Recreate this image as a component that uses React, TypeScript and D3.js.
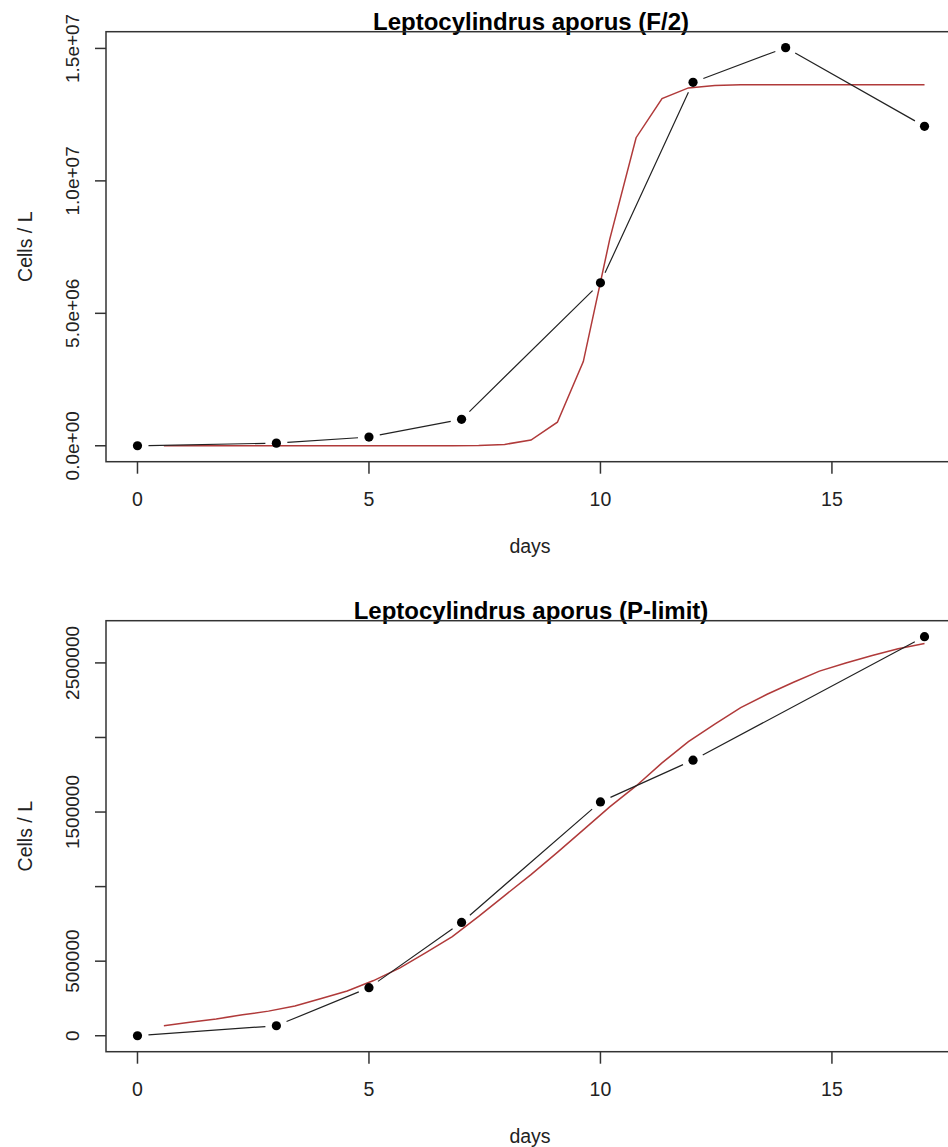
import React from "react";
import * as d3 from "d3";

// ---- data ----
const daysTop = [0, 3, 5, 7, 10, 12, 14, 17];
const cellsTop = [0, 0.1e6, 0.33e6, 1.0e6, 6.15e6, 13.72e6, 15.03e6, 12.06e6];

const daysBottom = [0, 3, 5, 7, 10, 12, 17];
const cellsBottom = [0, 0.067e6, 0.322e6, 0.76e6, 1.568e6, 1.848e6, 2.676e6];

const fitDays = [0.57, 1.13, 1.7, 2.27, 2.83, 3.4, 3.97, 4.53, 5.1, 5.67, 6.23, 6.8, 7.37, 7.93, 8.5, 9.07, 9.63, 10.2, 10.77, 11.33, 11.9, 12.47, 13.03, 13.6, 14.17, 14.73, 15.3, 15.87, 16.43, 17];
const fitTop = [0, 0, 0, 0, 0, 0, 0, 0, 0, 0.001e6, 0.001e6, 0.003e6, 0.011e6, 0.05e6, 0.216e6, 0.89e6, 3.18e6, 7.79e6, 11.63e6, 13.11e6, 13.51e6, 13.6e6, 13.63e6, 13.63e6, 13.63e6, 13.63e6, 13.63e6, 13.63e6, 13.63e6, 13.63e6];
const fitBottom = [0.067e6, 0.09e6, 0.113e6, 0.14e6, 0.165e6, 0.2e6, 0.25e6, 0.3e6, 0.37e6, 0.455e6, 0.557e6, 0.665e6, 0.8e6, 0.94e6, 1.08e6, 1.23e6, 1.38e6, 1.535e6, 1.675e6, 1.83e6, 1.972e6, 2.09e6, 2.2e6, 2.29e6, 2.37e6, 2.445e6, 2.5e6, 2.55e6, 2.595e6, 2.63e6];

const xTicks = [0, 5, 10, 15];
const yTicksTop = [0, 5e6, 1e7, 1.5e7];
const yLabelsTop = ["0.0e+00", "5.0e+06", "1.0e+07", "1.5e+07"];
const yTicksBottom = [0, 500000, 1000000, 1500000, 2000000, 2500000];
const yLabelsBottom = ["0", "500000", "", "1500000", "", "2500000"];

const titleTop = "Leptocylindrus aporus (F/2)";
const titleBottom = "Leptocylindrus aporus (P-limit)";

const FONT = "'Liberation Sans', Arial, Helvetica, sans-serif";
const AXIS = "#333";

type PanelProps = {
  top: number;
  bottom: number;
  days: number[];
  cells: number[];
  fit: number[];
  yTicks: number[];
  yLabels: string[];
  title: string;
};

function Panel({ top, bottom, days, cells, fit, yTicks, yLabels, title }: PanelProps) {
  const left = 106;
  const right = 956;
  const xmin = d3.min(days)!, xmax = d3.max(days)!;
  const xr = xmax - xmin;
  const x = d3.scaleLinear().domain([xmin - 0.04 * xr, xmax + 0.04 * xr]).range([left, right]);
  const ymin = d3.min(cells)!, ymax = d3.max(cells)!;
  const yr = ymax - ymin;
  const y = d3.scaleLinear().domain([ymin - 0.04 * yr, ymax + 0.04 * yr]).range([bottom, top]);

  const pts = days.map((d, i) => [x(d), y(cells[i])] as [number, number]);
  const gap = 11;
  const segs: string[] = [];
  for (let i = 0; i < pts.length - 1; i++) {
    const [x1, y1] = pts[i];
    const [x2, y2] = pts[i + 1];
    const L = Math.hypot(x2 - x1, y2 - y1);
    if (L <= 2 * gap) continue;
    const ux = (x2 - x1) / L, uy = (y2 - y1) / L;
    segs.push(`M${x1 + ux * gap},${y1 + uy * gap}L${x2 - ux * gap},${y2 - uy * gap}`);
  }

  const fitLine = d3
    .line<number>()
    .x((_, i) => x(fitDays[i]))
    .y((v) => y(v))(fit)!;

  const cx = (left + right) / 2;
  const cy = (top + bottom) / 2;

  return (
    <g>
      <text x={cx} y={top - 2} textAnchor="middle" fontFamily={FONT} fontWeight="bold" fontSize={24} fill="#000">
        {title}
      </text>
      <path d={fitLine} fill="none" stroke="#b03a3a" strokeWidth={1.5} />
      <path d={segs.join("")} fill="none" stroke="#222" strokeWidth={1.2} />
      {pts.map(([px, py], i) => (
        <circle key={i} cx={px} cy={py} r={4.6} fill="#000" />
      ))}
      <rect x={left} y={top} width={right - left} height={bottom - top} fill="none" stroke={AXIS} strokeWidth={1.5} />
      {xTicks.map((t) => (
        <g key={t}>
          <line x1={x(t)} x2={x(t)} y1={bottom} y2={bottom + 12} stroke={AXIS} strokeWidth={1.5} />
          <text x={x(t)} y={bottom + 37} dy="0.35em" textAnchor="middle" fontFamily={FONT} fontSize={19.5} fill="#222">
            {t}
          </text>
        </g>
      ))}
      {yTicks.map((t, i) => (
        <g key={t}>
          <line x1={left - 11} x2={left} y1={y(t)} y2={y(t)} stroke={AXIS} strokeWidth={1.5} />
          {yLabels[i] && (
            <text
              transform={`translate(72,${y(t)}) rotate(-90)`}
              dy="0.35em"
              textAnchor="middle"
              fontFamily={FONT}
              fontSize={19}
              fill="#222"
            >
              {yLabels[i]}
            </text>
          )}
        </g>
      ))}
      <text x={cx - 1} y={bottom + 84} dy="0.35em" textAnchor="middle" fontFamily={FONT} fontSize={19.5} fill="#222">
        days
      </text>
      <text
        transform={`translate(25,${cy}) rotate(-90)`}
        dy="0.35em"
        textAnchor="middle"
        fontFamily={FONT}
        fontSize={19.5}
        fill="#222"
      >
        Cells / L
      </text>
    </g>
  );
}

export default function App() {
  return (
    <div style={{ position: "absolute", left: 0, top: 0, width: 948, height: 1147, overflow: "hidden", background: "#fff" }}>
      <svg width={948} height={1147} viewBox="0 0 948 1147">
        <rect width={948} height={1147} fill="#fff" />
        <Panel
          top={31.7}
          bottom={461.7}
          days={daysTop}
          cells={cellsTop}
          fit={fitTop}
          yTicks={yTicksTop}
          yLabels={yLabelsTop}
          title={titleTop}
        />
        <Panel
          top={620.7}
          bottom={1051.7}
          days={daysBottom}
          cells={cellsBottom}
          fit={fitBottom}
          yTicks={yTicksBottom}
          yLabels={yLabelsBottom}
          title={titleBottom}
        />
      </svg>
    </div>
  );
}
